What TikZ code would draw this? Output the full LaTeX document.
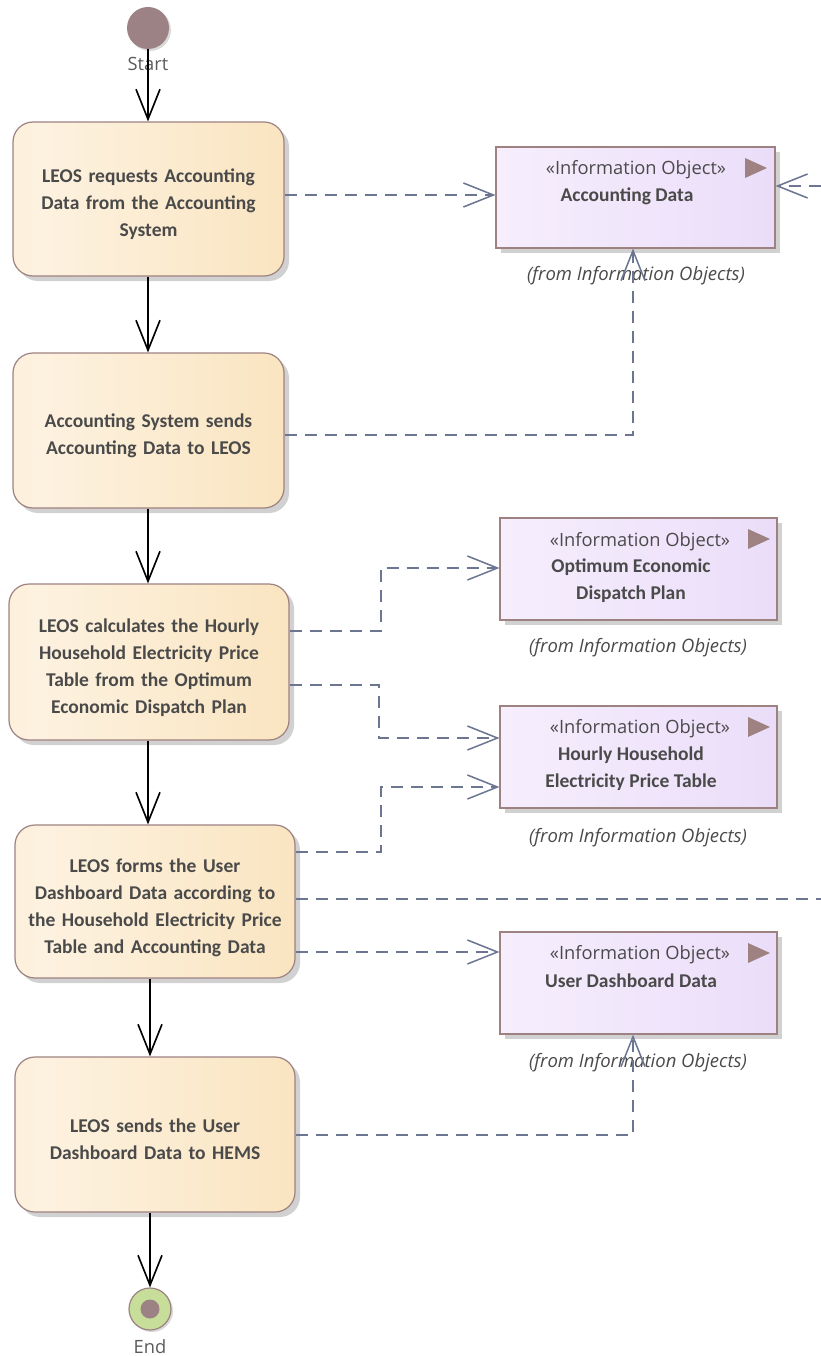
\documentclass[tikz,border=0pt]{standalone}
\usepackage{fontspec}
\setmainfont{Carlito}
\newfontfamily\uifont{Open Sans}
\usetikzlibrary{arrows.meta,shadows,calc}
\definecolor{txt}{HTML}{4A4A4A}
\definecolor{lbl}{HTML}{5A5A5A}
\definecolor{bord}{HTML}{9E8282}
\definecolor{actE}{HTML}{FAE6C6}
\definecolor{actL}{HTML}{FDF2E0}
\definecolor{actM}{HTML}{FAE6C4}
\definecolor{actR}{HTML}{F9DFB2}
\definecolor{infE}{HTML}{E9DAF8}
\definecolor{infL}{HTML}{F6EEFD}
\definecolor{infM}{HTML}{EDE1FA}
\definecolor{infR}{HTML}{E3D2F5}
\definecolor{dep}{HTML}{6C7693}
\definecolor{startc}{HTML}{9C8285}
\definecolor{endg}{HTML}{C6DE9A}
\pgfdeclarehorizontalshading{actshade}{100bp}{color(0bp)=(actE); color(3bp)=(actE); color(30bp)=(actL); color(70bp)=(actM); color(100bp)=(actR)}
\pgfdeclarehorizontalshading{infshade}{100bp}{color(0bp)=(infE); color(3bp)=(infE); color(25bp)=(infL); color(65bp)=(infM); color(100bp)=(infR)}
\tikzset{
  actbox/.style={draw=bord, line width=1.2pt, rounded corners=20pt, shading=actshade, shading angle=0,
    drop shadow={shadow xshift=5pt, shadow yshift=-5pt, fill=black!18, opacity=1}},
  acttext/.style={text=txt, font=\fontsize{19.5}{27}\selectfont\bfseries, align=center, text width=270pt},
  infobox/.style={draw=bord, line width=1.2pt, shading=infshade, shading angle=0,
    drop shadow={shadow xshift=5pt, shadow yshift=-5pt, fill=black!18, opacity=1}},
  stereo/.style={text=txt, font=\uifont\fontsize{18.3}{22}\selectfont},
  iname/.style={text=txt, font=\fontsize{19.5}{27}\selectfont\bfseries, align=center},
  fromlbl/.style={text=txt, font=\uifont\fontsize{18.5}{22}\selectfont\itshape},
  flow/.style={draw=black, line width=1.6pt, -{Straight Barb[length=30pt,width=24pt,line width=1.6pt]}},
  depline/.style={draw=dep, line width=1.5pt, dash pattern=on 12pt off 8pt, -{Straight Barb[length=30pt,width=24pt,line width=1.5pt]}},
  depnoarrow/.style={draw=dep, line width=1.5pt, dash pattern=on 12pt off 8pt},
  pin/.style={fill=bord}
}
\begin{document}
\begin{tikzpicture}[x=1pt,y=-1pt]
\useasboundingbox (0,0) rectangle (821,1356);
% start / end
\node[circle, minimum size=42pt, inner sep=0pt, fill=startc, drop shadow={shadow xshift=2pt, shadow yshift=-2pt, fill=black!15, opacity=1}] (start) at (148,28) {};
\node[text=lbl, font=\uifont\fontsize{18.3}{22}\selectfont] (startl) at (148,64) {Start};
\node[circle, minimum size=42pt, inner sep=0pt, fill=endg, draw=bord, line width=1.2pt, drop shadow={shadow xshift=2pt, shadow yshift=-2pt, fill=black!15, opacity=1}] (end) at (150,1309) {};
\node[circle, minimum size=19pt, inner sep=0pt, fill=startc] (endd) at (150,1309) {};
\node[text=lbl, font=\uifont\fontsize{18.3}{22}\selectfont] (endl) at (150,1347) {End};

% actions
\node[actbox, minimum width=271pt, minimum height=154pt] (a1) at (148.5,199) {};
\node[acttext] (a1t) at (148.5,204) {LEOS requests Accounting\\Data from the Accounting\\System};
\node[actbox, minimum width=271pt, minimum height=155pt] (a2) at (148.5,430.5) {};
\node[acttext] (a2t) at (148.5,435.5) {Accounting System sends\\Accounting Data to LEOS};
\node[actbox, minimum width=280pt, minimum height=156pt] (a3) at (149,662) {};
\node[acttext] (a3t) at (149,668) {LEOS calculates the Hourly\\Household Electricity Price\\Table from the Optimum\\Economic Dispatch Plan};
\node[actbox, minimum width=280pt, minimum height=153pt] (a4) at (155,901.5) {};
\node[acttext] (a4t) at (155,907.5) {LEOS forms the User\\Dashboard Data according to\\the Household Electricity Price\\Table and Accounting Data};
\node[actbox, minimum width=280pt, minimum height=155pt] (a5) at (155,1134.5) {};
\node[acttext] (a5t) at (155,1139.5) {LEOS sends the User\\Dashboard Data to HEMS};

% info objects
\node[infobox, minimum width=279pt, minimum height=101pt] (ad) at (635.5,197.5) {};
\node[stereo] (ads) at (636,170) {«Information Object»};
\node[iname] (adn) at (627,196) {Accounting Data};
\fill[pin] (745,158) -- (767,168) -- (745,178) -- cycle;
\node[fromlbl] (adf) at (636,276) {(from Information Objects)};

\node[infobox, minimum width=277pt, minimum height=102pt] (oe) at (638.5,569) {};
\node[stereo] (oes) at (640,542) {«Information Object»};
\node[iname] (oen) at (631,581) {Optimum Economic\\Dispatch Plan};
\fill[pin] (748,529) -- (770,539) -- (748,549) -- cycle;
\node[fromlbl] (oef) at (638,648) {(from Information Objects)};

\node[infobox, minimum width=277pt, minimum height=102pt] (hh) at (638.5,757) {};
\node[stereo] (hhs) at (640,729) {«Information Object»};
\node[iname] (hhn) at (631,768.5) {Hourly Household\\Electricity Price Table};
\fill[pin] (748,717) -- (770,727) -- (748,737) -- cycle;
\node[fromlbl] (hhf) at (638,838) {(from Information Objects)};

\node[infobox, minimum width=277pt, minimum height=102pt] (ud) at (638.5,983) {};
\node[stereo] (uds) at (640,955) {«Information Object»};
\node[iname] (udn) at (631,981) {User Dashboard Data};
\fill[pin] (748,943) -- (770,953) -- (748,963) -- cycle;
\node[fromlbl] (udf) at (638,1063) {(from Information Objects)};

% control flow
\coordinate (xa) at (148,0);
\coordinate (xb) at (150,0);
\draw[flow] (start.south) -- (a1.north -| start.south);
\draw[flow] (a1.south -| xa) -- (a2.north -| xa);
\draw[flow] (a2.south -| xa) -- (a3.north -| xa);
\draw[flow] (a3.south -| xa) -- (a4.north -| xa);
\draw[flow] (a4.south -| xb) -- (a5.north -| xb);
\draw[flow] (a5.south -| xb) -- (end.north);

% dependencies
\coordinate (d1) at (0,195);
\draw[depline] (a1.east |- d1) -- (ad.west |- d1);
\coordinate (d2) at (633,435);
\draw[depline] (a2.east |- d2) -- (d2) -- (ad.south -| d2);
\coordinate (ext1) at (821,186);
\draw[depline] (ext1) -- (ad.east |- ext1);
\coordinate (d3a) at (381,631);
\coordinate (d3b) at (381,568);
\draw[depline] (a3.east |- d3a) -- (d3a) -- (d3b) -- (oe.west |- d3b);
\coordinate (d4a) at (379,685);
\coordinate (d4b) at (379,738);
\draw[depline] (a3.east |- d4a) -- (d4a) -- (d4b) -- (hh.west |- d4b);
\coordinate (d5a) at (381,852);
\coordinate (d5b) at (381,787);
\draw[depline] (a4.east |- d5a) -- (d5a) -- (d5b) -- (hh.west |- d5b);
\coordinate (ext2) at (821,899);
\draw[depnoarrow] (a4.east |- ext2) -- (ext2);
\coordinate (d6) at (0,952);
\draw[depline] (a4.east |- d6) -- (ud.west |- d6);
\coordinate (d7) at (633,1135);
\draw[depline] (a5.east |- d7) -- (d7) -- (ud.south -| d7);
\end{tikzpicture}
\end{document}
